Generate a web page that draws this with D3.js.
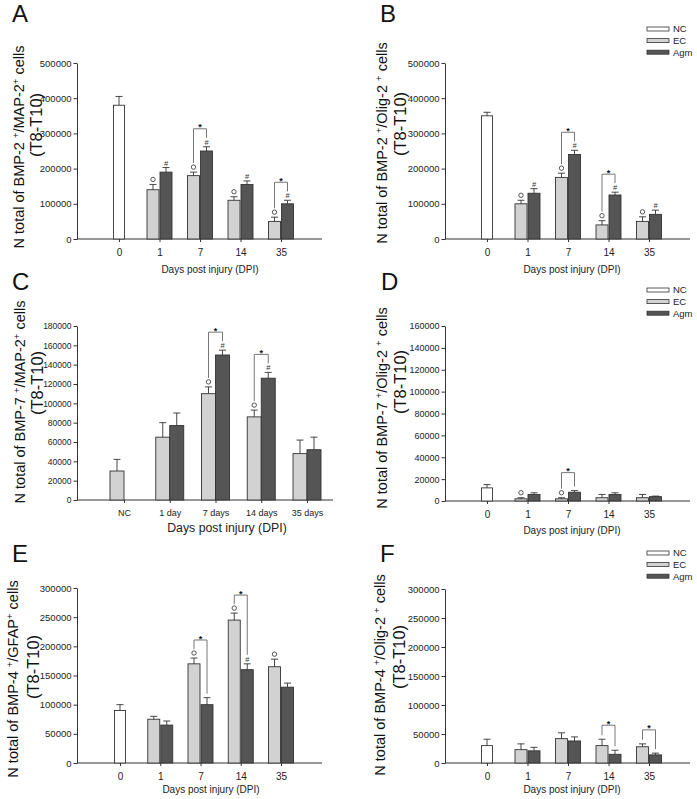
<!DOCTYPE html>
<html><head><meta charset="utf-8">
<script src="https://cdn.jsdelivr.net/npm/d3@7"></script>
<style>
body{margin:0;background:#fff}
svg{display:block;font-family:"Liberation Sans",Arial,sans-serif}
</style>
</head><body>
<svg id="chart" width="697" height="799"></svg>
<script>
// ---------- categories / ticks ----------
const catsDays = ["0","1","7","14","35"];
const catsC = ["NC","1 day","7 days","14 days","35 days"];
const legendLabels = ["NC","EC","Agm"];
const yTicksAB = [0,100000,200000,300000,400000,500000];
const yTicksC = [0,20000,40000,60000,80000,100000,120000,140000,160000,180000];
const yTicksD = [0,20000,40000,60000,80000,100000,120000,140000,160000];
const yTicksEF = [0,50000,100000,150000,200000,250000,300000];
const xTitle = "Days post injury (DPI)";

// ---------- Panel A: BMP-2+/MAP-2+ ----------
const aNC = [380000,null,null,null,null];
const aNCErr = [25000,null,null,null,null];
const aEC = [null,140000,180000,110000,50000];
const aECErr = [null,15000,10000,10000,12000];
const aAgm = [null,190000,250000,155000,100000];
const aAgmErr = [null,13000,12000,10000,10000];
const aECMark = ["","o","o","o","o"];
const aAgmMark = ["","#","#","#","#"];
const aSig = [0,0,1,0,1];

// ---------- Panel B: BMP-2+/Olig-2+ ----------
const bNC = [350000,null,null,null,null];
const bNCErr = [10000,null,null,null,null];
const bEC = [null,100000,175000,40000,50000];
const bECErr = [null,10000,12000,12000,13000];
const bAgm = [null,130000,240000,125000,70000];
const bAgmErr = [null,13000,12000,8000,12000];
const bECMark = ["","o","o","o","o"];
const bAgmMark = ["","#","#","#","#"];
const bSig = [0,0,1,1,0];

// ---------- Panel C: BMP-7+/MAP-2+ ----------
const cEC = [30000,65000,110000,86000,48000];
const cECErr = [12000,15000,7000,7000,14000];
const cAgm = [null,77000,150000,126000,52000];
const cAgmErr = [null,13000,5000,6000,13000];
const cECMark = ["","","o","o",""];
const cAgmMark = ["","","#","#",""];
const cSig = [0,0,1,1,0];

// ---------- Panel D: BMP-7+/Olig-2+ ----------
const dNC = [12000,null,null,null,null];
const dNCErr = [3000,null,null,null,null];
const dEC = [null,2000,2000,3000,3000];
const dECErr = [null,1000,1000,3000,3000];
const dAgm = [null,6000,8000,6000,4000];
const dAgmErr = [null,1500,1500,1500,500];
const dECMark = ["","o","o","",""];
const dAgmMark = ["","","","",""];
const dSig = [0,0,1,0,0];

// ---------- Panel E: BMP-4+/GFAP+ ----------
const eNC = [90000,null,null,null,null];
const eNCErr = [10000,null,null,null,null];
const eEC = [null,75000,170000,245000,165000];
const eECErr = [null,5000,10000,12000,13000];
const eAgm = [null,65000,100000,160000,130000];
const eAgmErr = [null,7000,12000,10000,7000];
const eECMark = ["","","o","o","o"];
const eAgmMark = ["","","","#",""];
const eSig = [0,0,1,1,0];

// ---------- Panel F: BMP-4+/Olig-2+ ----------
const fNC = [30000,null,null,null,null];
const fNCErr = [11000,null,null,null,null];
const fEC = [null,23000,42000,30000,28000];
const fECErr = [null,10000,10000,11000,5000];
const fAgm = [null,21000,38000,15000,14000];
const fAgmErr = [null,6000,7000,7000,3000];
const fECMark = ["","","","",""];
const fAgmMark = ["","","","",""];
const fSig = [0,0,0,1,1];

const COL = {NC:"#ffffff", EC:"#d2d2d2", Agm:"#555555", line:"#333333"};
const FONT = '"Liberation Sans",Arial,sans-serif';

const panels = [
 {letter:"A", lx:12, ly:22, cats:catsDays, ticks:yTicksAB, max:500000, x0:77, x1:322, cr:[119,281], yb:239, yt:63,
  mode:3, NC:aNC, NCErr:aNCErr, EC:aEC, ECErr:aECErr, Agm:aAgm, AgmErr:aAgmErr, ECMark:aECMark, AgmMark:aAgmMark, sig:aSig,
  title:["N total of BMP-2 ","+","/MAP-2","+"," cells"], t1:[19,147], t2:[36,125], tickFs:9.5, catFs:10,
  xt:[210,273], xtFs:10, legend:null},
 {letter:"B", lx:380, ly:22, cats:catsDays, ticks:yTicksAB, max:500000, x0:445, x1:690, cr:[487,649], yb:239, yt:63,
  mode:3, NC:bNC, NCErr:bNCErr, EC:bEC, ECErr:bECErr, Agm:bAgm, AgmErr:bAgmErr, ECMark:bECMark, AgmMark:bAgmMark, sig:bSig,
  title:["N total of BMP-2 ","+","/Olig-2 ","+"," cells"], t1:[382,143], t2:[400,124], tickFs:9.5, catFs:10,
  xt:[572,273], xtFs:10, legend:[647,29]},
 {letter:"C", lx:12, ly:290, cats:catsC, ticks:yTicksC, max:180000, x0:77, x1:333, cr:[124,307], yb:500, yt:326,
  mode:2, NC:null, EC:cEC, ECErr:cECErr, Agm:cAgm, AgmErr:cAgmErr, ECMark:cECMark, AgmMark:cAgmMark, sig:cSig,
  title:["N total of BMP-7 ","+","/MAP-2","+"," cells"], t1:[20,402], t2:[37,383], tickFs:8.5, catFs:9,
  xt:[227,532], xtFs:12.3, legend:null},
 {letter:"D", lx:381, ly:290, cats:catsDays, ticks:yTicksD, max:160000, x0:445, x1:690, cr:[487,649], yb:501, yt:326,
  mode:3, NC:dNC, NCErr:dNCErr, EC:dEC, ECErr:dECErr, Agm:dAgm, AgmErr:dAgmErr, ECMark:dECMark, AgmMark:dAgmMark, sig:dSig,
  title:["N total of BMP-7 ","+","/Olig-2 ","+"," cells"], t1:[382,408], t2:[400,382], tickFs:9, catFs:10,
  xt:[572,534], xtFs:10, legend:[647,290]},
 {letter:"E", lx:12, ly:562, cats:catsDays, ticks:yTicksEF, max:300000, x0:77, x1:322, cr:[120,281], yb:763, yt:588,
  mode:3, NC:eNC, NCErr:eNCErr, EC:eEC, ECErr:eECErr, Agm:eAgm, AgmErr:eAgmErr, ECMark:eECMark, AgmMark:eAgmMark, sig:eSig,
  title:["N total of BMP-4 ","+","/GFAP","+"," cells"], t1:[13,679], t2:[33,667], tickFs:9.5, catFs:10,
  xt:[211,793], xtFs:10, legend:null},
 {letter:"F", lx:380, ly:562, cats:catsDays, ticks:yTicksEF, max:300000, x0:445, x1:690, cr:[487,649], yb:763, yt:589,
  mode:3, NC:fNC, NCErr:fNCErr, EC:fEC, ECErr:fECErr, Agm:fAgm, AgmErr:fAgmErr, ECMark:fECMark, AgmMark:fAgmMark, sig:fSig,
  title:["N total of BMP-4 ","+","/Olig-2 ","+"," cells"], t1:[380,675], t2:[399,657], tickFs:9.5, catFs:10,
  xt:[572,793], xtFs:10, legend:[647,553]}
];

const svg = d3.select("#chart");
svg.append("rect").attr("width",697).attr("height",799).attr("fill","#fff");

function drawPanel(p){
  const g = svg.append("g");
  const x = d3.scalePoint().domain(p.cats).range(p.cr);
  const y = d3.scaleLinear().domain([0,p.max]).range([p.yb,p.yt]);

  // panel letter
  g.append("text").attr("x",p.lx).attr("y",p.ly).attr("font-size",24).attr("fill","#111").text(p.letter);

  // y axis
  const ya = g.append("g").attr("transform",`translate(${p.x0},0)`)
    .call(d3.axisLeft(y).tickValues(p.ticks).tickSize(3.5).tickSizeOuter(0).tickPadding(2).tickFormat(d3.format("d")));
  ya.attr("font-family",FONT).attr("font-size",p.tickFs);
  ya.select(".domain").attr("stroke",COL.line);
  ya.selectAll(".tick line").attr("stroke",COL.line);
  ya.selectAll(".tick text").attr("fill","#222");

  // x axis
  const xa = g.append("g").attr("transform",`translate(0,${p.yb})`)
    .call(d3.axisBottom(x).tickSize(3).tickSizeOuter(0).tickPadding(7));
  xa.attr("font-family",FONT).attr("font-size",p.catFs);
  xa.select(".domain").remove();
  xa.selectAll(".tick line").attr("stroke",COL.line);
  xa.selectAll(".tick text").attr("fill","#222");
  g.append("line").attr("x1",p.x0).attr("x2",p.x1).attr("y1",p.yb).attr("y2",p.yb).attr("stroke",COL.line);

  // bars
  const bw = p.mode===3 ? 12 : 14;
  const ncw = 11;
  const series = [];
  if(p.NC) series.push({vals:p.NC, errs:p.NCErr, fill:COL.NC, marks:null, left:c=>c-ncw/2, w:ncw});
  series.push({key:"EC", vals:p.EC, errs:p.ECErr, fill:COL.EC, marks:p.ECMark, left: p.mode===3 ? c=>c-bw-0.5 : c=>c-bw, w:bw});
  series.push({key:"Agm", vals:p.Agm, errs:p.AgmErr, fill:COL.Agm, marks:p.AgmMark, left: p.mode===3 ? c=>c+0.5 : c=>c, w:bw});

  const info = {};
  series.forEach(s=>{
    const rows = p.cats.map((c,i)=>({c, v:s.vals[i], e:s.errs[i], m:s.marks? s.marks[i] : ""})).filter(d=>d.v!=null);
    const sg = g.append("g");
    sg.selectAll("rect").data(rows).join("rect")
      .attr("x",d=>s.left(x(d.c))).attr("width",s.w)
      .attr("y",d=>y(d.v)).attr("height",d=>p.yb-y(d.v))
      .attr("fill",s.fill).attr("stroke",COL.line).attr("stroke-width",0.9);
    rows.forEach(d=>{
      const cx = s.left(x(d.c)) + s.w/2;
      const yt = y(d.v+d.e);
      sg.append("line").attr("x1",cx).attr("x2",cx).attr("y1",y(d.v)).attr("y2",yt).attr("stroke",COL.line).attr("stroke-width",0.9);
      sg.append("line").attr("x1",cx-3.5).attr("x2",cx+3.5).attr("y1",yt).attr("y2",yt).attr("stroke",COL.line).attr("stroke-width",0.9);
      if(d.m==="o"){
        sg.append("circle").attr("cx",cx).attr("cy",yt-5).attr("r",2.2).attr("fill","none").attr("stroke","#444").attr("stroke-width",0.9);
      } else if(d.m==="#"){
        sg.append("text").attr("x",cx).attr("y",yt-2).attr("text-anchor","middle").attr("font-size",7.5).attr("fill","#333").text("#");
      }
      if(s.key){ (info[d.c] = info[d.c] || {})[s.key] = {cx, yt, m:d.m}; }
    });
  });

  // significance brackets
  p.cats.forEach((c,i)=>{
    if(!p.sig[i]) return;
    const L = info[c].EC, R = info[c].Agm;
    const lb = L.yt - (L.m ? 9 : 4);
    const rb = R.yt - (R.m ? 9 : 4);
    const top = Math.min(L.yt,R.yt) - ((L.m||R.m) ? 18 : 14);
    g.append("path").attr("d",`M${L.cx},${lb}V${top}H${R.cx}V${rb}`)
      .attr("fill","none").attr("stroke","#666").attr("stroke-width",0.9);
    g.append("text").attr("x",(L.cx+R.cx)/2).attr("y",top+1.5).attr("text-anchor","middle")
      .attr("font-size",9).attr("font-weight","bold").attr("fill","#111").text("*");
  });

  // y title (two lines, rotated)
  const t1 = g.append("text").attr("transform",`translate(${p.t1[0]},${p.t1[1]}) rotate(-90)`)
    .attr("text-anchor","middle").attr("dy","0.35em").attr("font-size",14.5).attr("fill","#111");
  p.title.forEach((part,k)=>{
    const ts = t1.append("tspan").text(part);
    if(k%2===1) ts.attr("font-size",9.5).attr("baseline-shift","super");
  });
  g.append("text").attr("transform",`translate(${p.t2[0]},${p.t2[1]}) rotate(-90)`)
    .attr("text-anchor","middle").attr("dy","0.35em").attr("font-size",16.5).attr("fill","#111").text("(T8-T10)");

  // x title
  g.append("text").attr("x",p.xt[0]).attr("y",p.xt[1]).attr("text-anchor","middle")
    .attr("font-size",p.xtFs).attr("fill","#222").text(xTitle);

  // legend
  if(p.legend){
    const fills = [COL.NC, COL.EC, COL.Agm];
    legendLabels.forEach((lab,k)=>{
      const ly = p.legend[1] + k*11.6;
      g.append("rect").attr("x",p.legend[0]).attr("y",ly-2).attr("width",22).attr("height",4)
        .attr("fill",fills[k]).attr("stroke",COL.line).attr("stroke-width",0.8);
      g.append("text").attr("x",p.legend[0]+26).attr("y",ly).attr("dy","0.35em")
        .attr("font-size",9.5).attr("fill","#222").text(lab);
    });
  }
}

panels.forEach(drawPanel);
</script>
</body></html>
